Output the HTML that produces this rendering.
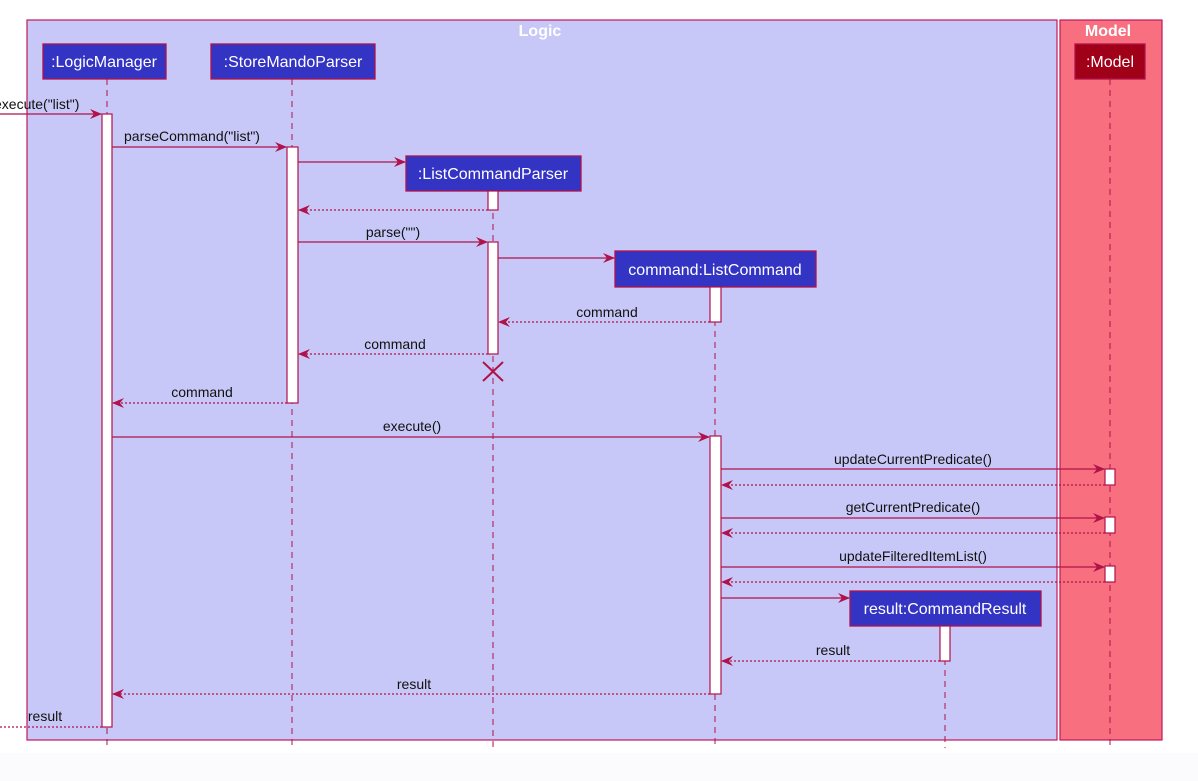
<!DOCTYPE html>
<html><head><meta charset="utf-8"><style>
html,body{margin:0;padding:0;background:#fbfbfd;}
svg{display:block;}
text{font-family:"Liberation Sans",sans-serif;font-size:14px;fill:#111;}
.ob{font-size:16px;fill:#fff;}
</style></head><body>
<svg width="1198" height="781" viewBox="0 0 1198 781" xmlns="http://www.w3.org/2000/svg">
<defs>
<marker id="a" viewBox="0 0 12 10" refX="11" refY="5" markerWidth="12" markerHeight="10" markerUnits="userSpaceOnUse" orient="auto">
<path d="M0,0 L12,5 L0,10 L4,5 Z" fill="#b0124a"/></marker>
</defs>
<rect x="0" y="0" width="1198" height="753" fill="#ffffff"/>
<rect x="27" y="20" width="1030" height="720" fill="#c8c8f8" stroke="#c0185a" stroke-width="1.2"/>
<rect x="1060" y="20" width="102" height="720" fill="#f87080" stroke="#c0185a" stroke-width="1.2"/>
<text x="540" y="36" text-anchor="middle" style="font-size:16px;font-weight:bold;fill:#fff">Logic</text>
<text x="1108" y="36" text-anchor="middle" style="font-size:16px;font-weight:bold;fill:#fff">Model</text>
<g stroke="#b0124a" stroke-width="1" stroke-dasharray="6,5">
<line x1="107" y1="79" x2="107" y2="748"/>
<line x1="292" y1="79" x2="292" y2="748"/>
<line x1="493" y1="191" x2="493" y2="748"/>
<line x1="715" y1="287" x2="715" y2="748"/>
<line x1="945" y1="626" x2="945" y2="748"/>
<line x1="1110" y1="79" x2="1110" y2="748"/>
</g>
<g stroke="#b0124a" stroke-width="1.3">
<rect x="43" y="44" width="123" height="35" fill="#3333c4"/>
<rect x="211" y="44" width="164" height="35" fill="#3333c4"/>
<rect x="406" y="156" width="175" height="35" fill="#3333c4"/>
<rect x="615" y="251" width="201" height="36" fill="#3333c4"/>
<rect x="850" y="591" width="191" height="35" fill="#3333c4"/>
<rect x="1075" y="44" width="70" height="35" fill="#a00018"/>
</g>
<text class="ob" x="104" y="67" text-anchor="middle">:LogicManager</text>
<text class="ob" x="293" y="67" text-anchor="middle">:StoreMandoParser</text>
<text class="ob" x="493" y="179" text-anchor="middle">:ListCommandParser</text>
<text class="ob" x="715" y="275" text-anchor="middle">command:ListCommand</text>
<text class="ob" x="945" y="614" text-anchor="middle">result:CommandResult</text>
<text class="ob" x="1110" y="67" text-anchor="middle">:Model</text>
<g fill="#fff" stroke="#b0124a" stroke-width="1.2">
<rect x="102" y="114" width="10" height="613"/>
<rect x="287" y="147" width="11" height="256"/>
<rect x="488" y="191" width="10" height="19"/>
<rect x="488" y="242" width="10" height="112"/>
<rect x="710" y="287" width="11" height="35"/>
<rect x="710" y="436" width="11" height="258"/>
<rect x="940" y="626" width="10" height="35"/>
<rect x="1105" y="469" width="10" height="16"/>
<rect x="1105" y="517" width="10" height="16"/>
<rect x="1105" y="566" width="10" height="16"/>
</g>
<g stroke="#b0124a" stroke-width="2"><line x1="483" y1="362" x2="503" y2="381"/><line x1="503" y1="362" x2="483" y2="381"/></g>
<g stroke="#b0124a" stroke-width="1.2" fill="none">
<line x1="0" y1="114" x2="101" y2="114" marker-end="url(#a)"/>
<line x1="112" y1="147" x2="286" y2="147" marker-end="url(#a)"/>
<line x1="298" y1="162" x2="405" y2="162" marker-end="url(#a)"/>
<line x1="298" y1="242" x2="487" y2="242" marker-end="url(#a)"/>
<line x1="498" y1="258" x2="614" y2="258" marker-end="url(#a)"/>
<line x1="112" y1="437" x2="709" y2="437" marker-end="url(#a)"/>
<line x1="721" y1="469" x2="1104" y2="469" marker-end="url(#a)"/>
<line x1="721" y1="518" x2="1104" y2="518" marker-end="url(#a)"/>
<line x1="721" y1="567" x2="1104" y2="567" marker-end="url(#a)"/>
<line x1="721" y1="598" x2="849" y2="598" marker-end="url(#a)"/>
</g>
<g stroke="#b0124a" stroke-width="1.2" fill="none" stroke-dasharray="2,2">
<line x1="488" y1="210" x2="299" y2="210" marker-end="url(#a)"/>
<line x1="710" y1="322" x2="499" y2="322" marker-end="url(#a)"/>
<line x1="488" y1="354" x2="299" y2="354" marker-end="url(#a)"/>
<line x1="287" y1="403" x2="113" y2="403" marker-end="url(#a)"/>
<line x1="1105" y1="485" x2="722" y2="485" marker-end="url(#a)"/>
<line x1="1105" y1="533" x2="722" y2="533" marker-end="url(#a)"/>
<line x1="1105" y1="582" x2="722" y2="582" marker-end="url(#a)"/>
<line x1="940" y1="661" x2="722" y2="661" marker-end="url(#a)"/>
<line x1="710" y1="694" x2="113" y2="694" marker-end="url(#a)"/>
<line x1="102" y1="727" x2="0" y2="727"/>
</g>
<text x="-6" y="109">execute("list")</text>
<text x="124" y="141">parseCommand("list")</text>
<text x="393" y="237" text-anchor="middle">parse("")</text>
<text x="607" y="317" text-anchor="middle">command</text>
<text x="395" y="349" text-anchor="middle">command</text>
<text x="202" y="397" text-anchor="middle">command</text>
<text x="412" y="431" text-anchor="middle">execute()</text>
<text x="913" y="464" text-anchor="middle">updateCurrentPredicate()</text>
<text x="913" y="512" text-anchor="middle">getCurrentPredicate()</text>
<text x="913" y="561" text-anchor="middle">updateFilteredItemList()</text>
<text x="833" y="655" text-anchor="middle">result</text>
<text x="414" y="689" text-anchor="middle">result</text>
<text x="45" y="721" text-anchor="middle">result</text>
</svg>
</body></html>
